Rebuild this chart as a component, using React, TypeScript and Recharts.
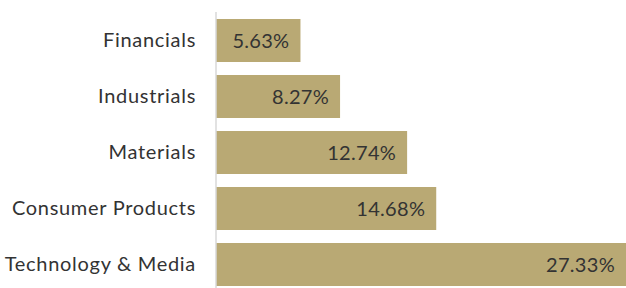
import React from "react";
import { BarChart, Bar, XAxis, YAxis, LabelList } from "recharts";

const categories = ["Financials", "Industrials", "Materials", "Consumer Products", "Technology & Media"];
const values = [5.63, 8.27, 12.74, 14.68, 27.33];

const data = categories.map((name, i) => ({ name, value: values[i] }));

export default function App() {
  return (
    <div style={{ position: "absolute", left: 0, top: 0, width: 626, height: 300, background: "#fff" }}>
      <BarChart
        width={626}
        height={300}
        data={data}
        layout="vertical"
        margin={{ top: 12, right: 0, bottom: 8, left: 0 }}
      >
        <XAxis type="number" domain={[0, 27.33]} hide />
        <YAxis
          type="category"
          dataKey="name"
          width={216}
          tickLine={false}
          tickSize={0}
          tickMargin={20}
          axisLine={{ stroke: "#d9d9d9", strokeWidth: 1.5 }}
          tick={{ fill: "#333", fontSize: 20, fontFamily: "Lato", letterSpacing: 0.7 }}
        />
        <Bar dataKey="value" fill="#b9a974" barSize={43} isAnimationActive={false}>
          <LabelList
            dataKey="value"
            position="insideRight"
            offset={11}
            formatter={(v: number) => `${v.toFixed(2)}%`}
            style={{ fill: "#333", fontSize: 20, fontFamily: "Lato", letterSpacing: 0.3 }}
          />
        </Bar>
      </BarChart>
    </div>
  );
}
